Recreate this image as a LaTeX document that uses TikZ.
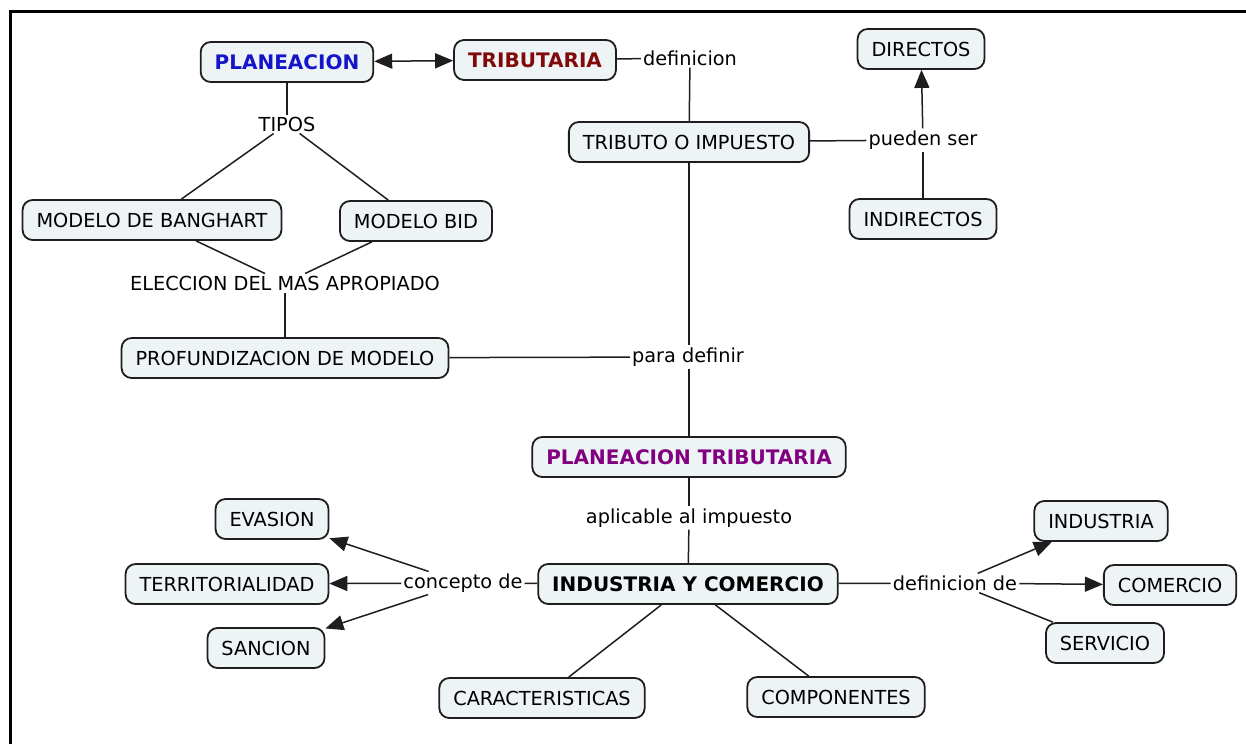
\documentclass[tikz,border=0pt]{standalone}
\usepackage{fontspec}
\setmainfont{DejaVu Sans}
\usetikzlibrary{arrows.meta}
\definecolor{cajafondo}{RGB}{238,243,246}
\definecolor{borde}{RGB}{30,30,30}
\definecolor{azulplan}{RGB}{20,20,200}
\definecolor{rojotrib}{RGB}{128,10,10}
\definecolor{moradoplan}{RGB}{128,0,128}
\newcommand{\letra}{\fontsize{19.3}{23}\selectfont}
\newcommand{\negrita}{\fontsize{20}{24}\selectfont\bfseries}
\tikzset{
  concepto/.style={draw=borde, line width=1.8pt, fill=cajafondo, rounded corners=10pt,
    minimum height=40pt, inner xsep=14pt, font=\letra},
  enlace/.style={inner sep=2pt, font=\letra},
  linea/.style={draw=borde, line width=1.5pt},
  flecha/.style={linea, -{Triangle[length=18pt,width=15pt]}},
  dobleflecha/.style={linea, {Triangle[length=18pt,width=15pt]}-{Triangle[length=18pt,width=15pt]}}
}
\newcommand{\Concepto}[3][]{\node[concepto, #1] (#2) {#3};}
\newcommand{\Enlace}[3][]{\node[enlace, #1] (#2) {#3};}

\begin{document}
\begin{tikzpicture}[x=1pt, y=-1pt]
\useasboundingbox (0,0) rectangle (1246,744);
\draw[line width=3pt] (10,744) -- (10,11) -- (1246,11);

% arriba
\Concepto[at={(287,62)}, text=azulplan, font=\negrita]{plan}{PLANEACION}
\Concepto[at={(535,60)}, text=rojotrib, font=\negrita]{trib}{TRIBUTARIA}
\Enlace[at={(690,58)}]{defi}{definicion}
\Concepto[at={(689,142)}]{impuesto}{TRIBUTO O IMPUESTO}
\Enlace[at={(923,140)}]{pueden}{pueden ser}
\Concepto[at={(921,49)}]{directos}{DIRECTOS}
\Concepto[at={(923,219)}]{indirectos}{INDIRECTOS}

% modelos
\Enlace[at={(287,124)}]{tipos}{TIPOS}
\Concepto[at={(152,220)}]{banghart}{MODELO DE BANGHART}
\Concepto[at={(416,221)}]{bid}{MODELO BID}
\Enlace[at={(285,283)}]{eleccion}{ELECCION DEL MAS APROPIADO}
\Concepto[at={(285,358)}]{profund}{PROFUNDIZACION DE MODELO}
\Enlace[at={(688,357)}]{para}{para definir}

% centro
\Concepto[at={(689,457)}, text=moradoplan, font=\negrita]{plantrib}{PLANEACION TRIBUTARIA}
\Enlace[at={(689,518)}]{aplicable}{aplicable al impuesto}
\Concepto[at={(688,584)}, font=\negrita]{indycom}{INDUSTRIA Y COMERCIO}

% izquierda
\Enlace[at={(463,583)}]{concepto}{concepto de}
\Concepto[at={(272,519)}]{evasion}{EVASION}
\Concepto[at={(227,584)}]{territ}{TERRITORIALIDAD}
\Concepto[at={(266,648)}]{sancion}{SANCION}

% derecha
\Enlace[at={(955,583)}]{defde}{definicion de}
\Concepto[at={(1101,521)}]{industria}{INDUSTRIA}
\Concepto[at={(1170,585)}]{comercio}{COMERCIO}
\Concepto[at={(1105,643)}]{servicio}{SERVICIO}

% abajo
\Concepto[at={(542,698)}]{caract}{CARACTERISTICAS}
\Concepto[at={(836,697)}]{compon}{COMPONENTES}

\draw[dobleflecha] (plan) -- (trib);
\draw[linea] (trib) -- (defi);
\draw[linea] (defi) -- (impuesto);
\draw[linea] (impuesto) -- (pueden);
\draw[flecha] (pueden) -- (directos);
\draw[linea] (indirectos) -- (pueden);
\draw[linea] (plan) -- (tipos);
\draw[linea] (tipos) -- (banghart);
\draw[linea] (tipos) -- (bid);
\draw[linea] (banghart) -- (eleccion);
\draw[linea] (bid) -- (eleccion);
\draw[linea] (eleccion) -- (profund);
\draw[linea] (profund) -- (para);
\draw[linea] (impuesto) -- (para.north -| impuesto);
\draw[linea] (para.south -| impuesto) -- (plantrib);
\draw[linea] (plantrib) -- (aplicable);
\draw[linea] (aplicable) -- (indycom);
\draw[linea] (indycom) -- (concepto);
\draw[flecha] (concepto) -- (evasion);
\draw[flecha] (concepto) -- (territ);
\draw[flecha] (concepto) -- (sancion);
\draw[linea] (indycom) -- (defde);
\draw[flecha] (defde) -- (industria);
\draw[flecha] (defde) -- (comercio);
\draw[linea] (defde) -- (servicio);
\draw[linea] (indycom) -- (caract);
\draw[linea] (indycom) -- (compon);
\end{tikzpicture}
\end{document}
